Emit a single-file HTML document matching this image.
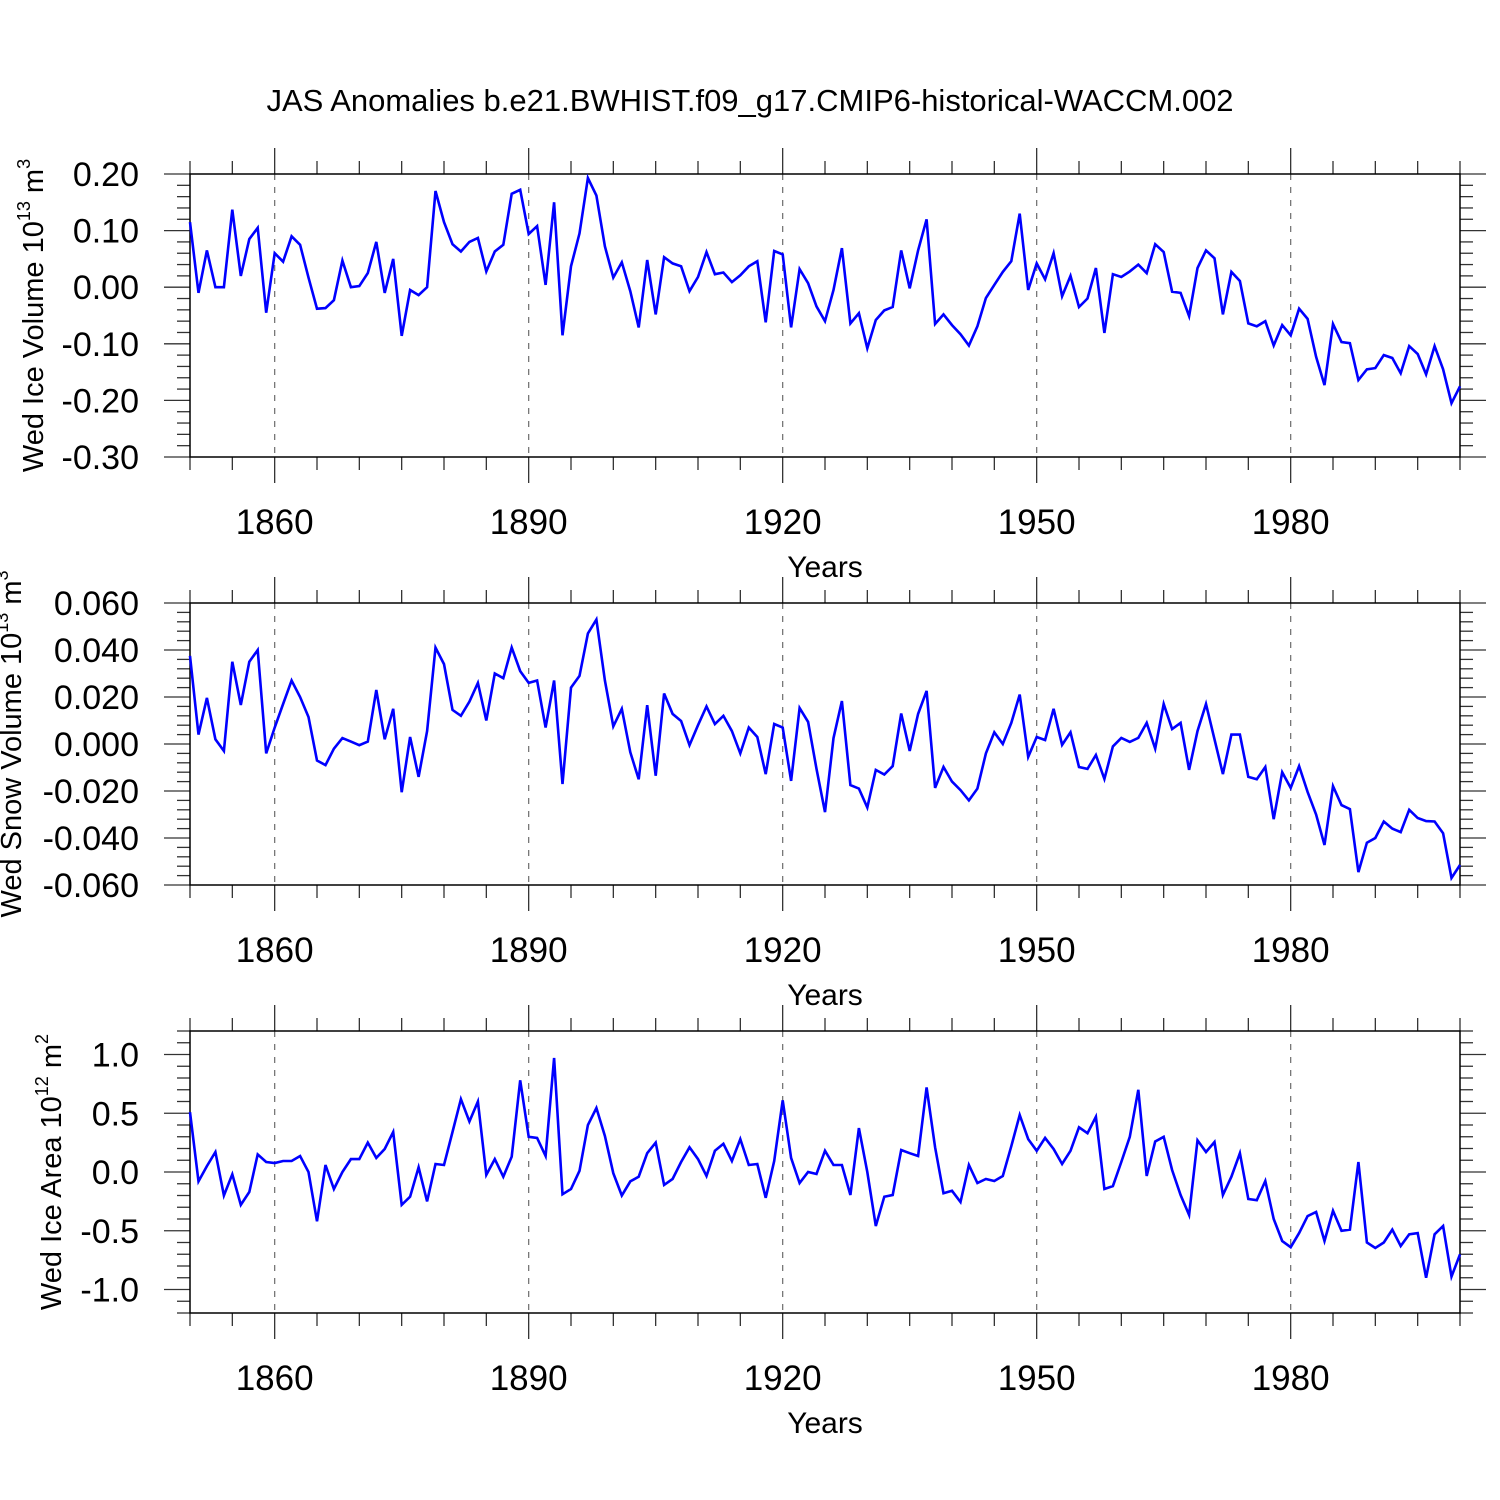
<!DOCTYPE html>
<html><head><meta charset="utf-8"><style>
html,body{margin:0;padding:0;background:#fff;}
svg{display:block;font-family:"Liberation Sans",Arial,sans-serif;}
</style></head><body>
<svg id="chart" width="1500" height="1500" xmlns="http://www.w3.org/2000/svg">
<text x="750" y="111" text-anchor="middle" font-size="31">JAS Anomalies b.e21.BWHIST.f09_g17.CMIP6-historical-WACCM.002</text>
</svg>
<script>
const years = []; for (let y = 1850; y <= 2000; y++) years.push(y);
const xTickYears = [1860, 1890, 1920, 1950, 1980];
const iceVolume = [0.115,-0.01,0.065,0.0,0.0,0.137,0.02,0.085,0.105,-0.045,0.06,0.045,0.09,0.075,0.017,-0.038,-0.037,-0.023,0.047,0.0,0.002,0.025,0.08,-0.01,0.05,-0.086,-0.005,-0.014,0.0,0.17,0.115,0.076,0.063,0.08,0.087,0.028,0.063,0.075,0.165,0.172,0.094,0.108,0.004,0.15,-0.085,0.037,0.095,0.193,0.162,0.072,0.017,0.044,-0.007,-0.071,0.048,-0.048,0.053,0.042,0.037,-0.007,0.018,0.062,0.023,0.026,0.009,0.021,0.037,0.046,-0.062,0.064,0.058,-0.071,0.032,0.007,-0.034,-0.06,-0.005,0.069,-0.064,-0.046,-0.108,-0.058,-0.041,-0.035,0.065,-0.002,0.065,0.12,-0.065,-0.048,-0.067,-0.083,-0.103,-0.069,-0.019,0.004,0.027,0.046,0.13,-0.005,0.042,0.014,0.06,-0.016,0.02,-0.035,-0.02,0.034,-0.081,0.023,0.018,0.028,0.04,0.025,0.076,0.062,-0.008,-0.01,-0.051,0.034,0.065,0.051,-0.048,0.027,0.011,-0.064,-0.069,-0.06,-0.103,-0.067,-0.085,-0.038,-0.056,-0.123,-0.173,-0.065,-0.097,-0.099,-0.164,-0.145,-0.143,-0.12,-0.125,-0.152,-0.104,-0.118,-0.154,-0.104,-0.145,-0.205,-0.175];
const snowVolume = [0.0375,0.004,0.0196,0.002,-0.003,0.035,0.0166,0.035,0.04,-0.004,0.007,0.017,0.027,0.02,0.0115,-0.007,-0.009,-0.002,0.0025,0.001,-0.0005,0.001,0.023,0.002,0.015,-0.0205,0.003,-0.014,0.0055,0.041,0.034,0.0145,0.012,0.018,0.026,0.010,0.030,0.028,0.041,0.031,0.026,0.027,0.007,0.027,-0.017,0.024,0.029,0.047,0.053,0.027,0.0075,0.015,-0.0035,-0.015,0.0165,-0.0135,0.0215,0.0128,0.0098,-0.0005,0.008,0.016,0.0085,0.012,0.0055,-0.004,0.007,0.003,-0.0128,0.0085,0.007,-0.0157,0.0153,0.0094,-0.0106,-0.029,0.0025,0.0183,-0.0175,-0.019,-0.027,-0.011,-0.013,-0.0094,0.013,-0.003,0.0128,0.0226,-0.0187,-0.0098,-0.016,-0.0196,-0.024,-0.019,-0.004,0.005,0.0,0.009,0.021,-0.0055,0.003,0.0017,0.015,-0.0004,0.005,-0.0098,-0.0106,-0.0047,-0.0149,-0.001,0.0026,0.0009,0.0026,0.009,-0.002,0.017,0.0064,0.009,-0.011,0.0055,0.017,0.002,-0.0128,0.004,0.004,-0.014,-0.015,-0.0098,-0.032,-0.012,-0.0187,-0.0094,-0.0204,-0.030,-0.043,-0.0179,-0.026,-0.0277,-0.0545,-0.042,-0.040,-0.033,-0.036,-0.0375,-0.028,-0.0315,-0.0328,-0.033,-0.038,-0.057,-0.0515];
const iceArea = [0.51,-0.08,0.05,0.17,-0.2,-0.02,-0.28,-0.17,0.15,0.085,0.077,0.094,0.094,0.136,0.0,-0.42,0.06,-0.145,0.0,0.11,0.11,0.25,0.12,0.196,0.34,-0.28,-0.21,0.04,-0.25,0.068,0.06,0.34,0.62,0.43,0.6,-0.025,0.11,-0.04,0.13,0.78,0.3,0.29,0.136,0.97,-0.19,-0.145,0.01,0.4,0.545,0.306,-0.01,-0.2,-0.08,-0.04,0.16,0.25,-0.11,-0.06,0.085,0.21,0.11,-0.034,0.18,0.24,0.094,0.28,0.06,0.068,-0.22,0.094,0.61,0.12,-0.094,0.0,-0.017,0.18,0.06,0.06,-0.196,0.374,0.0,-0.46,-0.21,-0.196,0.187,0.16,0.136,0.72,0.21,-0.18,-0.16,-0.255,0.06,-0.094,-0.06,-0.077,-0.034,0.22,0.485,0.28,0.18,0.29,0.196,0.068,0.18,0.38,0.33,0.47,-0.145,-0.12,0.085,0.3,0.7,-0.034,0.26,0.3,0.017,-0.196,-0.366,0.27,0.17,0.255,-0.196,-0.04,0.16,-0.23,-0.24,-0.077,-0.4,-0.587,-0.64,-0.52,-0.375,-0.34,-0.587,-0.33,-0.5,-0.49,0.085,-0.6,-0.647,-0.6,-0.49,-0.63,-0.53,-0.52,-0.9,-0.53,-0.46,-0.89,-0.7];
const iceVolTicks = ["0.20","0.10","0.00","-0.10","-0.20","-0.30"];
const snowTicks = ["0.060","0.040","0.020","0.000","-0.020","-0.040","-0.060"];
const areaTicks = ["1.0","0.5","0.0","-0.5","-1.0"];

const NS = "http://www.w3.org/2000/svg";
const svg = document.getElementById('chart');
const X0 = 190, X1 = 1460, YR0 = 1850, YR1 = 2000;
function xScale(yr){ return X0 + (yr - YR0) / (YR1 - YR0) * (X1 - X0); }
function mk(tag, attrs, parent){ const e = document.createElementNS(NS, tag); for (const k in attrs) e.setAttribute(k, attrs[k]); (parent||svg).appendChild(e); return e; }

function panel(p){
  const g = mk('g', {});
  
  
  const yS = v => p.top + (p.ymax - v) / (p.ymax - p.ymin) * (p.bot - p.top);
  xTickYears.forEach(yr => {
    const l = mk('line', {x1:xScale(yr), x2:xScale(yr), y1:p.top, y2:p.bot, stroke:'#777', 'stroke-width':1.3, 'stroke-dasharray':'6,7'}, g);
    
    
  });
  for (let yr = 1850; yr <= 2000; yr += 5){
    const major = xTickYears.includes(yr); const L = major ? 26 : 13; const x = xScale(yr);
    mk('line', {x1:x, x2:x, y1:p.top - L, y2:p.top, stroke:'#333', 'stroke-width':1.3}, g);
    mk('line', {x1:x, x2:x, y1:p.bot, y2:p.bot + L, stroke:'#333', 'stroke-width':1.3}, g);
  }
  const nMinor = Math.round((p.ymax - p.ymin) / p.minor);
  for (let i = 0; i <= nMinor; i++){
    const v = p.ymin + i * p.minor; const y = yS(v);
    const rel = (v - p.majorStart) / p.major;
    const major = Math.abs(rel - Math.round(rel)) < 1e-6;
    const L = major ? 26 : 13;
    mk('line', {x1:X0 - L, x2:X0, y1:y, y2:y, stroke:'#333', 'stroke-width':1.3}, g);
    mk('line', {x1:X1, x2:X1 + L, y1:y, y2:y, stroke:'#333', 'stroke-width':1.3}, g);
  }
  p.ticks.forEach(t => {
    const tx = mk('text', {x:139, y:yS(parseFloat(t)) + 12, 'text-anchor':'end', 'font-size':34}, g);
    tx.textContent = t;
    
    
  });
  xTickYears.forEach(yr => {
    const tx = mk('text', {x:xScale(yr), y:p.bot + 77, 'text-anchor':'middle', 'font-size':35}, g);
    tx.textContent = yr;
    
    
  });
  const xt = mk('text', {x:825, y:p.bot + 120, 'text-anchor':'middle', 'font-size':30}, g);
  xt.textContent = 'Years';
  
  
  const cy = (p.top + p.bot) / 2;
  const yt = mk('text', {x:0, y:0, 'text-anchor':'middle', 'font-size':29, transform:`translate(${p.titleX},${cy}) rotate(-90)`}, g);
  yt.innerHTML = p.ylabel;
  
  
  const r = mk('rect', {x:X0, y:p.top, width:X1 - X0, height:p.bot - p.top, fill:'none', stroke:'#000', 'stroke-width':1.5}, g);
  
  
  const pts = p.data.map((v, i) => xScale(years[i]).toFixed(1) + ',' + yS(v).toFixed(1)).join(' ');
  const pl = mk('polyline', {points:pts, fill:'none', stroke:'#0000ff', 'stroke-width':2.6, 'stroke-linejoin':'miter'}, g);
  
  
}
panel({name:'ice-volume-panel', titleX:43, top:174, bot:457, ymin:-0.30, ymax:0.20, minor:0.02, major:0.1, majorStart:-0.30, ticks:iceVolTicks, data:iceVolume,
  ylabel:'Wed Ice Volume 10<tspan dy="-13" font-size="18">13</tspan><tspan dy="13"> m</tspan><tspan dy="-13" font-size="18">3</tspan>'});
panel({name:'snow-volume-panel', titleX:21, top:603, bot:885, ymin:-0.06, ymax:0.06, minor:0.004, major:0.02, majorStart:-0.06, ticks:snowTicks, data:snowVolume,
  ylabel:'Wed Snow Volume 10<tspan dy="-13" font-size="18">13</tspan><tspan dy="13"> m</tspan><tspan dy="-13" font-size="18">3</tspan>'});
panel({name:'ice-area-panel', titleX:61, top:1031, bot:1313, ymin:-1.2, ymax:1.2, minor:0.1, major:0.5, majorStart:-1.0, ticks:areaTicks, data:iceArea,
  ylabel:'Wed Ice Area 10<tspan dy="-13" font-size="18">12</tspan><tspan dy="13"> m</tspan><tspan dy="-13" font-size="18">2</tspan>'});
</script>
</body></html>
